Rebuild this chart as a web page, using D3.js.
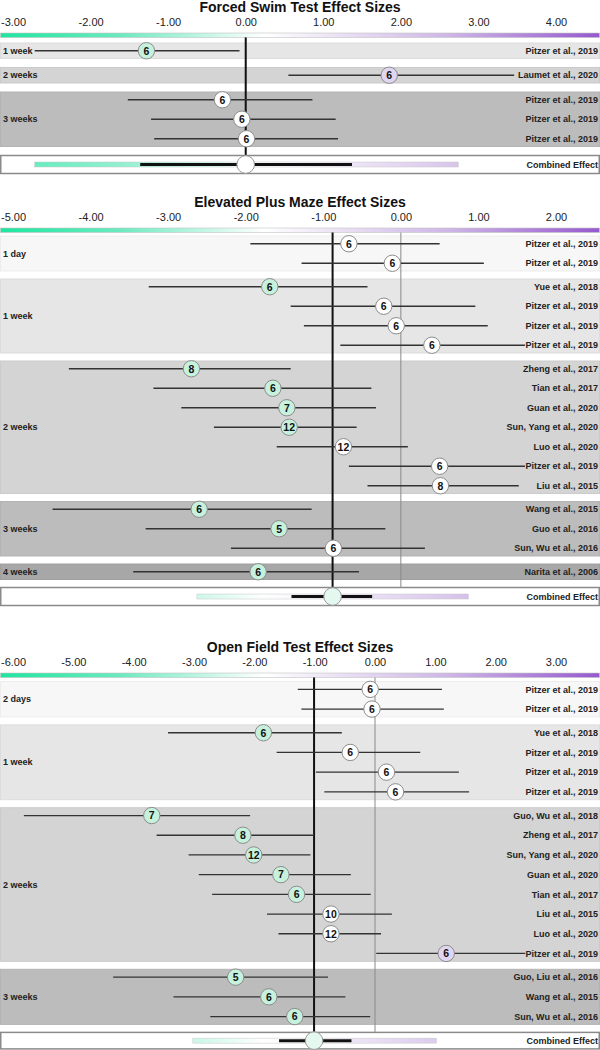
<!DOCTYPE html>
<html><head><meta charset="utf-8">
<script src="https://cdn.jsdelivr.net/npm/d3@7"></script>
<style>body{margin:0;background:#fff}svg{display:block;font-family:"Liberation Sans",Arial,sans-serif}</style>
</head><body><svg id="chart" width="600" height="1050"></svg>
<script>
// ---------- Forced Swim Test ----------
const fstTicks = [-3, -2, -1, 0, 1, 2, 3, 4];
const fstGroups = ["1 week", "2 weeks", "3 weeks"];
const fstStudies = ["Pitzer et al., 2019", "Laumet et al., 2020", "Pitzer et al., 2019", "Pitzer et al., 2019", "Pitzer et al., 2019"];
const fstStudyGroup = ["1 week", "2 weeks", "3 weeks", "3 weeks", "3 weeks"];
const fstN = [6, 6, 6, 6, 6];
const fstEffect = [-1.28, 1.85, -0.30, -0.05, 0.01];
const fstLower = [-2.72, 0.55, -1.52, -1.22, -1.18];
const fstUpper = [-0.08, 3.46, 0.86, 1.16, 1.19];
const fstCombined = [0.0, -1.36, 1.37, -2.72, 2.74]; // effect, CI low, CI high, PI low, PI high

// ---------- Elevated Plus Maze ----------
const epmTicks = [-5, -4, -3, -2, -1, 0, 1, 2];
const epmGroups = ["1 day", "1 week", "2 weeks", "3 weeks", "4 weeks"];
const epmStudies = ["Pitzer et al., 2019", "Pitzer et al., 2019",
  "Yue et al., 2018", "Pitzer et al., 2019", "Pitzer et al., 2019", "Pitzer et al., 2019",
  "Zheng et al., 2017", "Tian et al., 2017", "Guan et al., 2020", "Sun, Yang et al., 2020", "Luo et al., 2020", "Pitzer et al., 2019", "Liu et al., 2015",
  "Wang et al., 2015", "Guo et al., 2016", "Sun, Wu et al., 2016",
  "Narita et al., 2006"];
const epmStudyGroup = ["1 day", "1 day",
  "1 week", "1 week", "1 week", "1 week",
  "2 weeks", "2 weeks", "2 weeks", "2 weeks", "2 weeks", "2 weeks", "2 weeks",
  "3 weeks", "3 weeks", "3 weeks",
  "4 weeks"];
const epmN = [6, 6, 6, 6, 6, 6, 8, 6, 7, 12, 12, 6, 8, 6, 5, 6, 6];
const epmEffect = [-0.67, -0.11, -1.69, -0.22, -0.06, 0.40, -2.70, -1.65, -1.47, -1.44, -0.74, 0.50, 0.51, -2.60, -1.57, -0.87, -1.84];
const epmLower = [-1.94, -1.28, -3.25, -1.42, -1.25, -0.78, -4.28, -3.19, -2.83, -2.41, -1.60, -0.67, -0.43, -4.49, -3.29, -2.19, -3.45];
const epmUpper = [0.50, 1.07, -0.43, 0.96, 1.12, 1.60, -1.42, -0.38, -0.32, -0.57, 0.09, 1.60, 1.52, -1.15, -0.20, 0.31, -0.54];
const epmCombined = [-0.88, -1.41, -0.37, -2.63, 0.87];

// ---------- Open Field Test ----------
const oftTicks = [-6, -5, -4, -3, -2, -1, 0, 1, 2, 3];
const oftGroups = ["2 days", "1 week", "2 weeks", "3 weeks"];
const oftStudies = ["Pitzer et al., 2019", "Pitzer et al., 2019",
  "Yue et al., 2018", "Pitzer et al., 2019", "Pitzer et al., 2019", "Pitzer et al., 2019",
  "Guo, Wu et al., 2018", "Zheng et al., 2017", "Sun, Yang et al., 2020", "Guan et al., 2020", "Tian et al., 2017", "Liu et al., 2015", "Luo et al., 2020", "Pitzer et al., 2019",
  "Guo, Liu et al., 2016", "Wang et al., 2015", "Sun, Wu et al., 2016"];
const oftStudyGroup = ["2 days", "2 days",
  "1 week", "1 week", "1 week", "1 week",
  "2 weeks", "2 weeks", "2 weeks", "2 weeks", "2 weeks", "2 weeks", "2 weeks", "2 weeks",
  "3 weeks", "3 weeks", "3 weeks"];
const oftN = [6, 6, 6, 6, 6, 6, 7, 8, 12, 7, 6, 10, 12, 6, 5, 6, 6];
const oftEffect = [-0.08, -0.05, -1.85, -0.41, 0.19, 0.34, -3.70, -2.19, -2.01, -1.56, -1.30, -0.73, -0.73, 1.18, -2.31, -1.76, -1.33];
const oftLower = [-1.28, -1.22, -3.43, -1.63, -0.98, -0.84, -5.82, -3.62, -3.09, -2.92, -2.70, -1.79, -1.60, 0.02, -4.34, -3.34, -2.73];
const oftUpper = [1.11, 1.14, -0.55, 0.75, 1.39, 1.56, -2.07, -1.01, -1.07, -0.40, -0.07, 0.28, 0.10, 2.49, -0.78, -0.49, -0.08];
const oftCombined = [-1.01, -1.59, -0.39, -3.02, 1.02];

// ---------- styling ----------
const bandFill = {"1 day": "#f7f7f7", "2 days": "#f7f7f7", "1 week": "#e6e6e6", "2 weeks": "#d4d4d4", "3 weeks": "#bcbcbc", "4 weeks": "#a7a7a7"};
const W = 600;

const svg = d3.select("#chart");
const defs = svg.append("defs");
const grad = defs.append("linearGradient").attr("id", "effGrad")
  .attr("gradientUnits", "userSpaceOnUse").attr("x1", 0).attr("x2", W).attr("y1", 0).attr("y2", 0);
[[0, "#1de6a0"], [0.2, "#6ceabf"], [0.44, "#ffffff"], [0.75, "#cdb5e6"], [1, "#9658cf"]].forEach(([o, c]) =>
  grad.append("stop").attr("offset", o).attr("stop-color", c));

function circleFill(lo, hi) {
  if (hi < 0) return "#c6f1dd";
  if (lo > 0) return "#e1d6f1";
  return "#ffffff";
}

function drawPanel(cfg) {
  const {top, title, ticks, groups, studies, studyGroup, n, eff, lo, hi, combined, rowH, firstY, gap, combH} = cfg;
  const x = d3.scaleLinear().domain([ticks[0], ticks[ticks.length - 1]]).range([13, 556]);
  const g = svg.append("g");

  g.append("text").attr("x", W / 2).attr("y", top + 11.5).attr("text-anchor", "middle")
    .attr("font-size", 14).attr("font-weight", "bold").attr("fill", "#111").text(title);

  const axis = d3.axisTop(x).tickValues(ticks).tickSize(0).tickPadding(0).tickFormat(d => d.toFixed(2));
  const ax = g.append("g").attr("transform", `translate(0,${top + 26})`).call(axis);
  ax.select(".domain").remove();
  ax.selectAll("text").attr("font-size", 11).attr("fill", "#222").attr("font-family", "Liberation Sans, Arial, sans-serif");

  const gradY = top + 33;
  g.append("rect").attr("x", 0.5).attr("y", gradY).attr("width", W - 1).attr("height", 4.5)
    .attr("fill", "url(#effGrad)").attr("stroke", "#c4c4c4").attr("stroke-width", 0.6);

  // layout of groups and rows
  let y = top + firstY;
  const rowY = new Array(studies.length);
  const bands = [];
  groups.forEach(gr => {
    const idx = studies.map((s, i) => i).filter(i => studyGroup[i] === gr);
    const h = rowH * idx.length - 4;
    bands.push({gr, y, h});
    idx.forEach((i, k) => rowY[i] = y + rowH / 2 - 2 + k * rowH);
    y += h + gap;
  });
  const combTop = y, combY = combTop + combH / 2;

  bands.forEach(b => {
    g.append("rect").attr("x", 0.5).attr("y", b.y).attr("width", W - 1).attr("height", b.h)
      .attr("fill", bandFill[b.gr]).attr("stroke", d3.color(bandFill[b.gr]).darker(0.12)).attr("stroke-width", 1);
    g.append("text").attr("x", 3).attr("y", b.y + b.h / 2).attr("dy", "0.35em")
      .attr("font-size", 9).attr("font-weight", "bold").attr("fill", "#222").text(b.gr);
  });

  // zero line and combined mean line
  g.append("line").attr("x1", x(0)).attr("x2", x(0)).attr("y1", gradY + 4.5).attr("y2", combTop)
    .attr("stroke", "#8a8a8a").attr("stroke-width", 1);
  g.append("line").attr("x1", x(combined[0])).attr("x2", x(combined[0])).attr("y1", gradY + 4.5).attr("y2", combY)
    .attr("stroke", "#111").attr("stroke-width", 2);

  // study rows
  const rows = g.selectAll("g.row").data(studies.map((s, i) => i)).join("g").attr("class", "row");
  rows.append("line").attr("x1", i => x(lo[i])).attr("x2", i => x(hi[i]))
    .attr("y1", i => rowY[i]).attr("y2", i => rowY[i]).attr("stroke", "#333").attr("stroke-width", 1.3);
  rows.append("text").attr("x", W - 2).attr("y", i => rowY[i]).attr("dy", "0.35em").attr("text-anchor", "end")
    .attr("font-size", 9).attr("font-weight", "bold").attr("fill", "#222").text(i => studies[i]);
  rows.append("circle").attr("cx", i => x(eff[i])).attr("cy", i => rowY[i]).attr("r", 8.2)
    .attr("fill", i => circleFill(lo[i], hi[i])).attr("stroke", "#8c8c8c").attr("stroke-width", 1);
  rows.append("text").attr("x", i => x(eff[i])).attr("y", i => rowY[i]).attr("dy", "0.36em").attr("text-anchor", "middle")
    .attr("font-size", 10.5).attr("font-weight", "bold").attr("fill", "#111").text(i => n[i]);

  // combined effect
  g.append("rect").attr("x", 0.75).attr("y", combTop).attr("width", W - 1.5).attr("height", combH)
    .attr("fill", "#fff").attr("stroke", "#8a8a8a").attr("stroke-width", 1.5);
  g.append("text").attr("x", W - 2).attr("y", combY).attr("dy", "0.35em").attr("text-anchor", "end")
    .attr("font-size", 9).attr("font-weight", "bold").attr("fill", "#222").text("Combined Effect");
  g.append("rect").attr("x", x(combined[3])).attr("y", combY - 2.5).attr("width", x(combined[4]) - x(combined[3])).attr("height", 5)
    .attr("fill", "url(#effGrad)").attr("fill-opacity", 0.75).attr("stroke", "#c8c8c8").attr("stroke-width", 0.5);
  g.append("line").attr("x1", x(combined[1])).attr("x2", x(combined[2])).attr("y1", combY).attr("y2", combY)
    .attr("stroke", "#111").attr("stroke-width", 3);
  g.append("circle").attr("cx", x(combined[0])).attr("cy", combY).attr("r", 8.8)
    .attr("fill", combined[2] < 0 ? "#e4f8ef" : (combined[1] > 0 ? "#eee6f7" : "#fff"))
    .attr("stroke", "#999").attr("stroke-width", 1);
}

drawPanel({top: 0, title: "Forced Swim Test Effect Sizes", ticks: fstTicks, groups: fstGroups, studies: fstStudies,
  studyGroup: fstStudyGroup, n: fstN, eff: fstEffect, lo: fstLower, hi: fstUpper, combined: fstCombined,
  rowH: 19.5, firstY: 43, gap: 9, combH: 18});
drawPanel({top: 195, title: "Elevated Plus Maze Effect Sizes", ticks: epmTicks, groups: epmGroups, studies: epmStudies,
  studyGroup: epmStudyGroup, n: epmN, eff: epmEffect, lo: epmLower, hi: epmUpper, combined: epmCombined,
  rowH: 19.5, firstY: 41, gap: 8, combH: 18});
drawPanel({top: 640, title: "Open Field Test Effect Sizes", ticks: oftTicks, groups: oftGroups, studies: oftStudies,
  studyGroup: oftStudyGroup, n: oftN, eff: oftEffect, lo: oftLower, hi: oftUpper, combined: oftCombined,
  rowH: 19.7, firstY: 41.5, gap: 8, combH: 16.5});
</script>
</body></html>
